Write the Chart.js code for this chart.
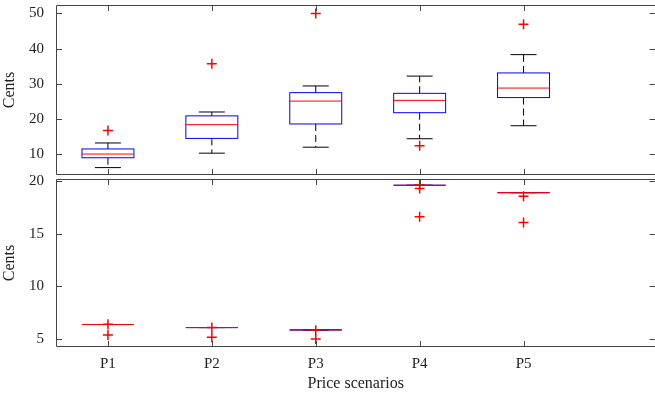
<!DOCTYPE html>
<html>
<head>
<meta charset="utf-8">
<script src="https://cdn.jsdelivr.net/npm/chart.js@4"></script>
<style>
  body { margin: 0; background: #fff; overflow: hidden; }
  .panel { position: absolute; left: 0; width: 662px; }
</style>
</head>
<body>
<div class="panel" style="top:-8px;height:196px"><canvas id="top"></canvas></div>
<div class="panel" style="top:166px;height:235px"><canvas id="bottom"></canvas></div>
<script>
// scenario labels
const scenarios = ['P1', 'P2', 'P3', 'P4', 'P5']

// top panel: box stats per scenario
const topWhiskerLow = [6.2, 10.3, 12.0, 14.4, 18.1]
const topQ1 = [9.0, 14.5, 18.6, 21.8, 26.1]
const topMedian = [10.05, 18.4, 25.1, 25.3, 28.8]
const topQ3 = [11.5, 20.9, 27.5, 27.3, 33.1]
const topWhiskerHigh = [13.2, 22.0, 29.4, 32.2, 38.3]
const topOutliers = [[16.75], [35.7], [50], [12.4], [46.9]]
const topTicks = [10, 20, 30, 40, 50]

// bottom panel: boxes collapse to a single line
const botWhiskerLow = [6.34, 6.05, 5.83, 19.6, 18.9]
const botQ1 = [6.34, 6.05, 5.83, 19.6, 18.9]
const botMedian = [6.34, 6.05, 5.83, 19.6, 18.9]
const botQ3 = [6.34, 6.05, 5.83, 19.6, 18.9]
const botWhiskerHigh = [6.34, 6.05, 5.83, 19.6, 18.9]
const botOutliers = [[6.37, 5.35], [6.05, 5.13], [5.8, 4.97], [19.66, 19.3, 16.6], [18.55, 16.05]]
const botTicks = [5, 10, 15, 20]

const serif = 'Liberation Serif'

function outlierPoints(outliers) {
    let pts = []
    outliers.forEach(function (list, i) {
        list.forEach(function (v) { pts.push({ x: i + 1, y: v }) })
    })
    return pts
}

function boxPlugin(stats) {
    return {
        id: 'boxes',
        beforeDatasetsDraw: function (chart) {
            const ctx = chart.ctx
            const xs = chart.scales.x
            const ys = chart.scales.y
            const half = (xs.getPixelForValue(1.25) - xs.getPixelForValue(1))
            const cap = half / 2
            ctx.save()
            for (let i = 0; i < scenarios.length; i++) {
                const cx = xs.getPixelForValue(i + 1)
                const wl = ys.getPixelForValue(stats.wl[i])
                const q1 = ys.getPixelForValue(stats.q1[i])
                const md = ys.getPixelForValue(stats.md[i])
                const q3 = ys.getPixelForValue(stats.q3[i])
                const wh = ys.getPixelForValue(stats.wh[i])
                ctx.strokeStyle = '#000'
                ctx.lineWidth = 1
                ctx.setLineDash([7, 4])
                ctx.beginPath()
                ctx.moveTo(cx, q1); ctx.lineTo(cx, wl)
                ctx.moveTo(cx, q3); ctx.lineTo(cx, wh)
                ctx.stroke()
                ctx.setLineDash([])
                ctx.beginPath()
                ctx.moveTo(cx - cap, wl); ctx.lineTo(cx + cap, wl)
                ctx.moveTo(cx - cap, wh); ctx.lineTo(cx + cap, wh)
                ctx.stroke()
                ctx.strokeStyle = '#0000ff'
                ctx.strokeRect(cx - half, q3, half * 2, q1 - q3)
                ctx.strokeStyle = '#ff0000'
                ctx.beginPath()
                ctx.moveTo(cx - half, md); ctx.lineTo(cx + half, md)
                ctx.stroke()
            }
            ctx.restore()
        },
        afterDraw: function (chart) {
            const ctx = chart.ctx
            const a = chart.chartArea
            const xs = chart.scales.x
            const ys = chart.scales.y
            ctx.save()
            ctx.strokeStyle = '#444'
            ctx.lineWidth = 1
            ctx.beginPath()
            ctx.moveTo(a.right, a.top + 0.5); ctx.lineTo(a.left + 0.5, a.top + 0.5)
            ctx.lineTo(a.left + 0.5, a.bottom - 0.5); ctx.lineTo(a.right, a.bottom - 0.5)
            for (let i = 1; i <= scenarios.length; i++) {
                const x = Math.round(xs.getPixelForValue(i)) + 0.5
                ctx.moveTo(x, a.top); ctx.lineTo(x, a.top + 6)
                ctx.moveTo(x, a.bottom); ctx.lineTo(x, a.bottom - 6)
            }
            stats.ticks.forEach(function (t) {
                const y = Math.round(ys.getPixelForValue(t)) + 0.5
                ctx.moveTo(a.left, y); ctx.lineTo(a.left + 6, y)
                ctx.moveTo(a.right, y); ctx.lineTo(a.right - 6, y)
            })
            ctx.stroke()
            ctx.restore()
        }
    }
}

function makeChart(id, stats, yMin, yMax, showX) {
    new Chart(document.getElementById(id), {
        type: 'scatter',
        data: {
            datasets: [{
                data: outlierPoints(stats.out),
                pointStyle: 'cross',
                radius: 5,
                borderWidth: 1.5,
                borderColor: '#ff0000',
                backgroundColor: '#ff0000'
            }]
        },
        options: {
            animation: false,
            maintainAspectRatio: false,
            responsive: true,
            layout: { padding: 0 },
            plugins: { legend: { display: false }, tooltip: { enabled: false } },
            scales: {
                x: {
                    type: 'linear', min: 0.5, max: 6.27,
                    grid: { display: false }, border: { display: false },
                    afterBuildTicks: function (s) { s.ticks = scenarios.map(function (c, i) { return { value: i + 1 } }) },
                    afterFit: function (s) { if (showX) s.height = 54 },
                    ticks: {
                        display: showX, color: '#222', padding: 0,
                        font: { family: serif, size: 15 },
                        callback: function (v) { return scenarios[v - 1] }
                    },
                    title: { display: showX, text: 'Price scenarios', color: '#222', padding: { top: 0, bottom: 8 }, font: { family: serif, size: 16 } }
                },
                y: {
                    min: yMin, max: yMax,
                    grid: { display: false }, border: { display: false },
                    afterBuildTicks: function (s) { s.ticks = stats.ticks.map(function (v) { return { value: v } }) },
                    afterFit: function (s) { s.width = 56 },
                    ticks: { color: '#222', padding: 4, font: { family: serif, size: 15 } },
                    title: { display: true, text: 'Cents', color: '#222', padding: 0, font: { family: serif, size: 16 } }
                }
            }
        },
        plugins: [boxPlugin(stats)]
    })
}

makeChart('top', {
    wl: topWhiskerLow, q1: topQ1, md: topMedian, q3: topQ3, wh: topWhiskerHigh,
    out: topOutliers, ticks: topTicks
}, 4.1, 52.4, false)

makeChart('bottom', {
    wl: botWhiskerLow, q1: botQ1, md: botMedian, q3: botQ3, wh: botWhiskerHigh,
    out: botOutliers, ticks: botTicks
}, 4.2, 20.2, true)
</script>
</body>
</html>
